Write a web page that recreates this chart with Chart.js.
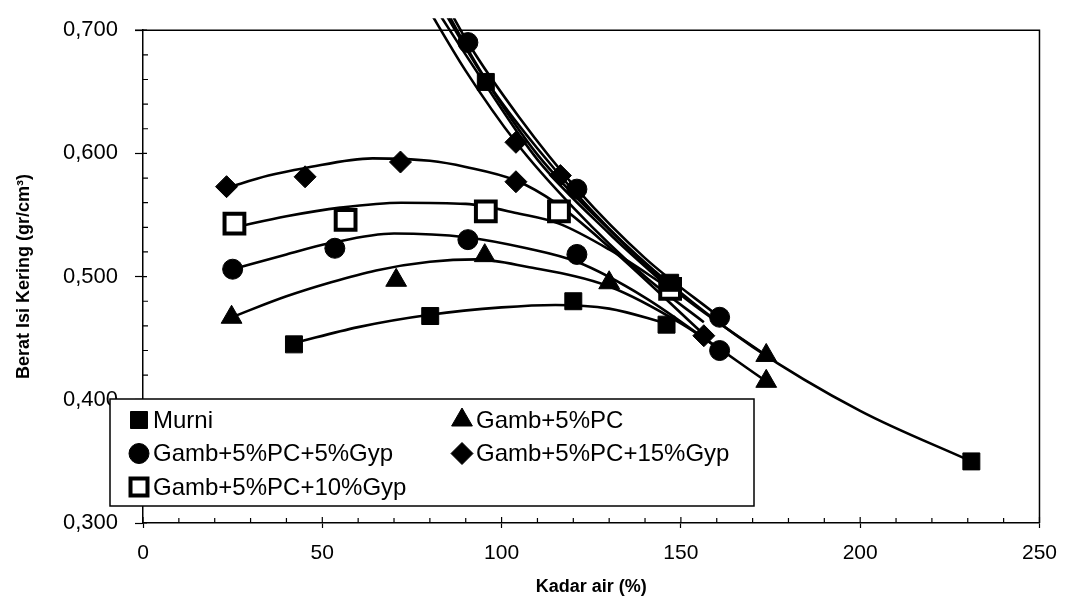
<!DOCTYPE html>
<html>
<head>
<meta charset="utf-8">
<script src="https://cdn.jsdelivr.net/npm/chart.js@4.4.1/dist/chart.umd.min.js"></script>
<style>
   html, body { margin: 0; padding: 0; background: #fff; }
</style>
</head>
<body>
<canvas id="chart1" width="1070" height="603"></canvas>
<script>
/*=================================>> DATA  <<=================================*/

const seriesNames = ["Murni", "Gamb+5%PC", "Gamb+5%PC+5%Gyp", "Gamb+5%PC+15%Gyp", "Gamb+5%PC+10%Gyp"];

// measured points [kadar air %, berat isi kering]
const murniPts = [[42.1, 0.445], [80.1, 0.468], [120, 0.480], [146, 0.461], [95.6, 0.658], [147, 0.495], [231, 0.350]];
const pcPts    = [[24.7, 0.467], [70.6, 0.497], [95.3, 0.517], [130, 0.495], [173.8, 0.436], [173.8, 0.415]];
const gyp5Pts  = [[25, 0.506], [53.5, 0.523], [90.6, 0.530], [121, 0.518], [160.8, 0.440], [90.6, 0.690], [121, 0.571], [160.8, 0.467]];
const gyp15Pts = [[23.3, 0.573], [45.2, 0.581], [71.8, 0.593], [104, 0.577], [104, 0.609], [116.4, 0.582], [156.4, 0.452]];
const gyp10Pts = [[25.5, 0.543], [56.5, 0.546], [95.6, 0.553], [116, 0.553], [147, 0.490]];

// compaction trend curves
const murniTrend = [[42.1, 0.446], [60, 0.459], [80, 0.469], [100, 0.475], [115, 0.477], [130, 0.474], [146, 0.462]];
const pcTrend    = [[24.7, 0.467], [40, 0.484], [52, 0.495], [65, 0.505], [80, 0.512], [93, 0.514], [107, 0.508], [130, 0.492], [150, 0.462], [173.8, 0.415]];
const gyp5Trend  = [[25, 0.506], [40, 0.518], [52, 0.527], [70, 0.535], [90, 0.532], [107, 0.523], [121, 0.512], [140, 0.483], [160.8, 0.441]];
const gyp10Trend = [[25.5, 0.540], [40, 0.549], [55, 0.556], [72, 0.560], [90, 0.559], [105, 0.551], [116, 0.543], [130, 0.522], [147, 0.490]];
const gyp15Trend = [[23.3, 0.572], [35, 0.582], [45, 0.588], [64, 0.596], [80, 0.594], [90, 0.589], [104, 0.578], [115, 0.560], [130, 0.524], [156.4, 0.453]];

// saturation curves (descending bundle)
const murniSat = [[80, 0.740], [95.6, 0.660], [110, 0.604], [130, 0.539], [147, 0.494], [170, 0.443], [200, 0.391], [231, 0.350]];
const pcSat    = [[80, 0.735], [95, 0.662], [110, 0.599], [130, 0.538], [150, 0.485], [173.8, 0.436]];
const gyp5Sat  = [[82, 0.735], [90.6, 0.690], [105, 0.629], [121, 0.571], [140, 0.515], [160.8, 0.467]];
const gyp15Sat = [[78, 0.725], [90, 0.667], [104, 0.609], [120, 0.556], [140, 0.500], [156.4, 0.463]];
const gyp10Sat = [[80, 0.725], [95, 0.658], [110, 0.595], [130, 0.535], [147, 0.490]];

const xTicks = [0, 50, 100, 150, 200, 250];
const yTicks = [0.3, 0.4, 0.5, 0.6, 0.7];

/*=================================>> CHART  <<=================================*/

const FONT = "'Liberation Sans', Arial, sans-serif";
const toXY = (pts) => pts.map(p => ({ x: p[0], y: p[1] }));

const markerStyles = [
   { pointStyle: 'rect', radius: 12, bg: '#000', bw: 1 },
   { pointStyle: 'triangle', radius: 12, bg: '#000', bw: 1 },
   { pointStyle: 'circle', radius: 10, bg: '#000', bw: 1 },
   { pointStyle: 'rectRot', radius: 11, bg: '#000', bw: 1 },
   { pointStyle: 'rect', radius: 14, bg: '#fff', bw: 4 },
];

function lineSet(pts) {
   return {
      data: toXY(pts),
      showLine: true,
      pointRadius: 0,
      borderColor: '#000',
      borderWidth: 2.6,
      cubicInterpolationMode: 'monotone',
      clip: { left: 0, top: 12, right: 0, bottom: 0 },
      order: 2,
   };
}

function markerSet(pts, st) {
   return {
      data: toXY(pts),
      showLine: false,
      pointStyle: st.pointStyle,
      pointRadius: st.radius,
      pointBackgroundColor: st.bg,
      pointBorderColor: '#000',
      pointBorderWidth: st.bw,
      order: 1,
   };
}

const allPts = [murniPts, pcPts, gyp5Pts, gyp15Pts, gyp10Pts];
const datasets = [];
[murniTrend, pcTrend, gyp5Trend, gyp15Trend, gyp10Trend].forEach(t => datasets.push(lineSet(t)));
[murniSat, pcSat, gyp5Sat, gyp15Sat, gyp10Sat].forEach(s => datasets.push(lineSet(s)));
allPts.forEach((p, i) => datasets.push(markerSet(p, markerStyles[i])));

function drawMarker(ctx, style, x, y) {
   ctx.save();
   ctx.fillStyle = style.bg;
   ctx.strokeStyle = '#000';
   ctx.lineWidth = style.bw;
   ctx.beginPath();
   const r = style.radius;
   if (style.pointStyle === 'rect') {
      const s = r * Math.SQRT1_2;
      ctx.rect(x - s, y - s, 2 * s, 2 * s);
   } else if (style.pointStyle === 'circle') {
      ctx.arc(x, y, r, 0, Math.PI * 2);
   } else if (style.pointStyle === 'rectRot') {
      ctx.moveTo(x, y - r); ctx.lineTo(x + r, y); ctx.lineTo(x, y + r); ctx.lineTo(x - r, y);
      ctx.closePath();
   } else if (style.pointStyle === 'triangle') {
      const h = r * Math.sqrt(3) / 2;
      ctx.moveTo(x, y - r); ctx.lineTo(x + h, y + r / 2); ctx.lineTo(x - h, y + r / 2);
      ctx.closePath();
   }
   ctx.fill();
   ctx.stroke();
   ctx.restore();
}

const frameAndTicks = {
   id: 'frameAndTicks',
   afterDatasetsDraw(chart) {
      const { ctx, chartArea: a, scales } = chart;
      ctx.save();
      ctx.strokeStyle = '#000';
      ctx.lineWidth = 1.5;
      ctx.beginPath();
      ctx.moveTo(a.left - 8, a.top); ctx.lineTo(a.right, a.top); ctx.lineTo(a.right, a.bottom);
      ctx.stroke();
      ctx.lineWidth = 1.2;
      ctx.beginPath();
      for (let i = 15; i <= 35; i++) {
         const py = scales.y.getPixelForValue(i / 50);
         const len = i % 5 === 0 ? 4 : 5;
         ctx.moveTo(a.left, py); ctx.lineTo(a.left + len, py);
      }
      for (let v = 0; v <= 250; v += 10) {
         const px = scales.x.getPixelForValue(v);
         const len = v % 50 === 0 ? 6 : 5;
         ctx.moveTo(px, a.bottom); ctx.lineTo(px, a.bottom - len);
      }
      ctx.stroke();
      ctx.restore();
   },
   afterDraw(chart) {
      const { ctx, chartArea: a } = chart;
      const bx = a.left - 33, by = a.bottom - 124, bw = 644, bh = 107;
      ctx.save();
      ctx.fillStyle = '#fff';
      ctx.fillRect(bx, by, bw, bh);
      ctx.strokeStyle = '#000';
      ctx.lineWidth = 1.5;
      ctx.strokeRect(bx, by, bw, bh);
      ctx.font = `24px ${FONT}`;
      ctx.fillStyle = '#000';
      ctx.textBaseline = 'middle';
      const slots = [[0, 0], [1, 0], [0, 1], [1, 1], [0, 2]];
      seriesNames.forEach((name, k) => {
         const [col, row] = slots[k];
         const mx = bx + (col === 0 ? 29 : 352);
         const my = by + 21 + row * 33.5;
         const st = Object.assign({}, markerStyles[k]);
         if (k === 4) st.radius = 12;
         drawMarker(ctx, st, mx, my);
         ctx.fillStyle = '#000';
         ctx.fillText(name, mx + 14, my + 1);
      });
      ctx.restore();
   }
};

new Chart(document.querySelector('#chart1'), {
   type: 'scatter',
   data: { datasets },
   options: {
      responsive: false,
      animation: false,
      layout: { padding: { top: 25, right: 25, left: 0, bottom: 0 } },
      plugins: {
         legend: { display: false },
         tooltip: { enabled: false },
      },
      scales: {
         x: {
            type: 'linear',
            min: 0, max: 250,
            afterFit: (s) => { s.height = 80; },
            afterBuildTicks: (s) => { s.ticks = xTicks.map(v => ({ value: v })); },
            ticks: { color: '#000', padding: 13, font: { size: 21, family: FONT } },
            grid: { drawOnChartArea: false, tickLength: 5, tickColor: '#000', tickWidth: 1.2 },
            border: { display: true, color: '#000', width: 1.5 },
            title: {
               display: true, text: 'Kadar air (%)', color: '#000',
               font: { size: 18, weight: 'bold', family: FONT },
               padding: { top: 0, bottom: 5 },
            },
         },
         y: {
            type: 'linear',
            min: 0.3, max: 0.7,
            afterFit: (s) => { s.width = 143; },
            afterBuildTicks: (s) => { s.ticks = yTicks.map(v => ({ value: v })); },
            ticks: {
               color: '#000', padding: 17, font: { size: 22, family: FONT },
               callback: (v) => v.toFixed(3).replace('.', ','),
            },
            grid: { drawOnChartArea: false, tickLength: 8, tickColor: '#000', tickWidth: 1.2 },
            border: { display: true, color: '#000', width: 1.5 },
            title: {
               display: true, text: 'Berat Isi Kering (gr/cm³)', color: '#000',
               font: { size: 18, weight: 'bold', family: FONT },
               padding: { top: 13, bottom: 0 },
            },
         },
      },
   },
   plugins: [frameAndTicks],
});
</script>
</body>
</html>
